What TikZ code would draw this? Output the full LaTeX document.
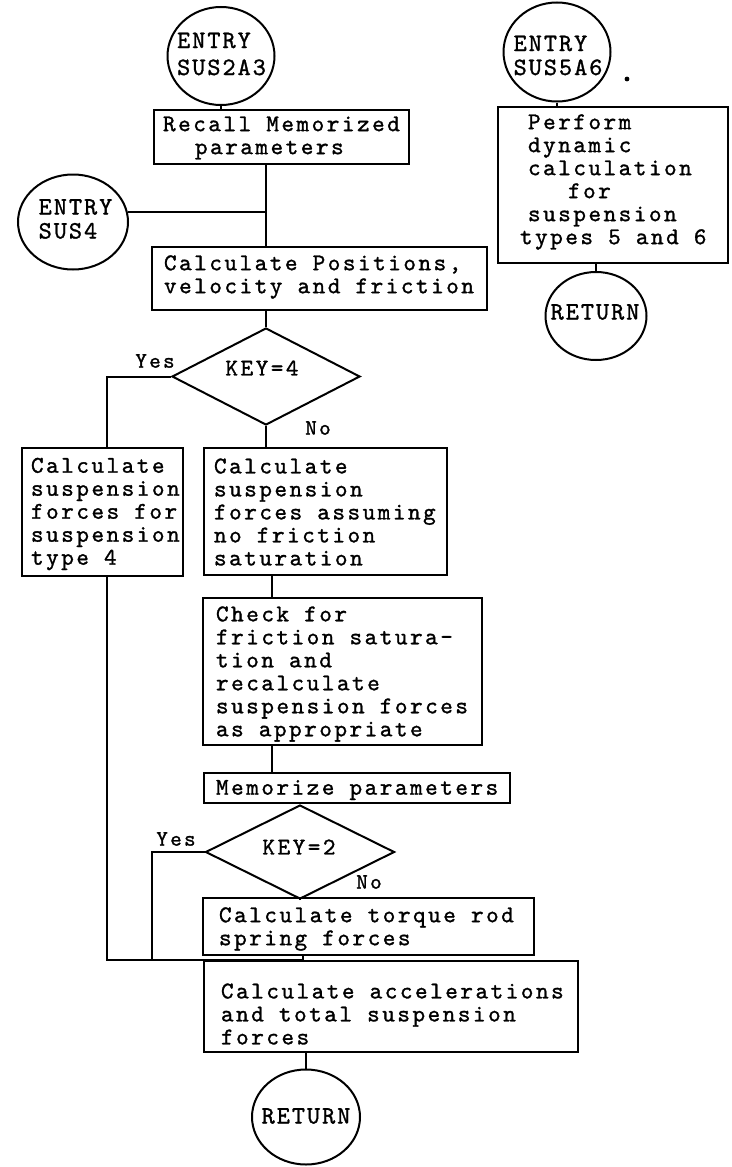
\documentclass[tikz,border=0pt]{standalone}
\usepackage{fontspec}
\usetikzlibrary{shapes.geometric}
% typewriter face, spread out like an old pica machine
\newfontfamily\tw{lmmono10-regular}[Extension=.otf,LetterSpace=10.5,FakeBold=1.2]
\newfontfamily\twc{lmmono10-regular}[Extension=.otf,LetterSpace=8,FakeBold=1.2]
\begin{document}
\begin{tikzpicture}[x=1pt,y=-1pt,line width=2pt,
  box/.style={draw,rectangle,inner sep=0pt},
  txt/.style={font=\tw\fontsize{24}{23}\selectfont,align=left,inner sep=0pt,anchor=west},
  term/.style={draw,ellipse,inner sep=0pt},
  termtxt/.style={font=\twc\fontsize{25}{24}\selectfont,align=left,inner sep=0pt},
  decision/.style={draw,diamond,inner sep=0pt,shape aspect=2},
  keytxt/.style={font=\tw\fontsize{24}{23}\selectfont,inner sep=0pt},
  lbl/.style={font=\tw\fontsize{22}{22}\selectfont,inner sep=0pt}]
\fill[white] (0,0) rectangle (731,1167);
\useasboundingbox (0,0) rectangle (731,1167);

% ---- terminals ----
\node[term,minimum width=107pt,minimum height=98pt] (sus2a3) at (221,56) {};
\node[termtxt,font=\twc\fontsize{25}{27}\selectfont] (sus2a3t) at (221.5,54) {ENTRY\\SUS2A3};
\node[term,minimum width=110pt,minimum height=95pt] (sus4) at (73,222) {};
\node[termtxt] (sus4t) at (75.5,219) {ENTRY\\SUS4};
\node[term,minimum width=107pt,minimum height=99pt] (sus5a6) at (557,52) {};
\node[termtxt] (sus5a6t) at (558,55.5) {ENTRY\\SUS5A6};
\node[term,minimum width=101pt,minimum height=88pt] (ret2) at (596,316) {};
\node[termtxt] (ret2t) at (595,312) {RETURN};
\node[term,minimum width=108pt,minimum height=95pt] (ret1) at (306,1117) {};
\node[termtxt] (ret1t) at (306,1116) {RETURN};

% ---- process boxes ----
\node[box,minimum width=255pt,minimum height=54pt] (recall) at (281.5,137) {};
\node[txt] (recallt) at (162,138) {Recall Memorized\\\hspace*{32pt}parameters};
\node[box,minimum width=335pt,minimum height=63pt] (calc) at (319.5,278.5) {};
\node[txt] (calct) at (163,277) {Calculate Positions,\\velocity and friction};
\node[box,minimum width=161pt,minimum height=128pt] (t4) at (102.5,512) {};
\node[txt] (t4t) at (30,514) {Calculate\\suspension\\forces for\\suspension\\type 4};
\node[box,minimum width=243pt,minimum height=127pt] (nofric) at (325.5,511.5) {};
\node[txt] (nofrict) at (213,512) {Calculate\\suspension\\forces assuming\\no friction\\saturation};
\node[box,minimum width=279pt,minimum height=147pt] (check) at (342.5,671.5) {};
\node[txt] (checkt) at (215,674) {Check for\\friction satura-\\tion and\\recalculate\\suspension forces\\as appropriate};
\node[box,minimum width=306pt,minimum height=30pt] (memo) at (357,788) {};
\node[txt] (memot) at (215,790) {Memorize parameters};
\node[box,minimum width=331pt,minimum height=57pt] (torque) at (368.5,926.5) {};
\node[txt] (torquet) at (218,929) {Calculate torque rod\\spring forces};
\node[box,minimum width=374pt,minimum height=91pt] (accel) at (391,1006.5) {};
\node[txt] (accelt) at (220,1014) {Calculate accelerations\\and total suspension\\forces};
\node[box,minimum width=230pt,minimum height=156pt] (perform) at (613,185) {};
\node[txt] (performt) at (527,182) {Perform\\dynamic\\calculation\\\hspace*{40pt}for\\suspension\\\hspace*{-8pt}types 5 and 6};

% ---- decisions ----
\node[decision,minimum width=188pt,minimum height=97pt] (key4) at (266,376.5) {};
\node[keytxt] (key4t) at (262,368) {KEY=4};
\node[decision,minimum width=189pt,minimum height=94pt] (key2) at (300,852) {};
\node[keytxt] (key2t) at (299,847) {KEY=2};
\node[lbl] (yes4) at (155,361) {Yes};
\node[lbl] (no4) at (318,428) {No};
\node[lbl] (yes2) at (176,839) {Yes};
\node[lbl] (no2) at (369,882) {No};

% ---- connector columns ----
\coordinate (trunk) at (266,0);
\coordinate (spine) at (272,0);
\coordinate (join) at (303,0);
\coordinate (leftrun) at (107,0);
\coordinate (yesrun) at (152,0);

% ---- connectors ----
\draw (sus2a3.south) -- (sus2a3.south |- recall.north);
\draw (recall.south -| trunk) -- (calc.north -| trunk);
\draw (sus4.10) -- (sus4.10 -| trunk);
\draw (calc.south -| trunk) -- (key4.north);
\draw (key4.west) -| (t4.north -| leftrun);
\draw (key4.south) -- (key4.south |- nofric.north);
\draw (nofric.south -| spine) -- (check.north -| spine);
\draw (check.south -| spine) -- (memo.north -| spine);
\draw (key2.north) -- (key2.north |- memo.south);
\draw (key2.south) -- (key2.south |- torque.north);
\draw (key2.west) -| (accel.north -| yesrun);
\draw (t4.south -| leftrun) |- (accel.north -| join);
\draw (torque.south -| join) -- (accel.north -| join);
\draw (ret1.north) -- (ret1.north |- accel.south);
\draw (sus5a6.south) -- (sus5a6.south |- perform.north);
\draw (ret2.north) -- (ret2.north |- perform.south);

% stray full stop beside the second entry
\fill (627,79) circle (2.4pt);
\end{tikzpicture}
\end{document}
